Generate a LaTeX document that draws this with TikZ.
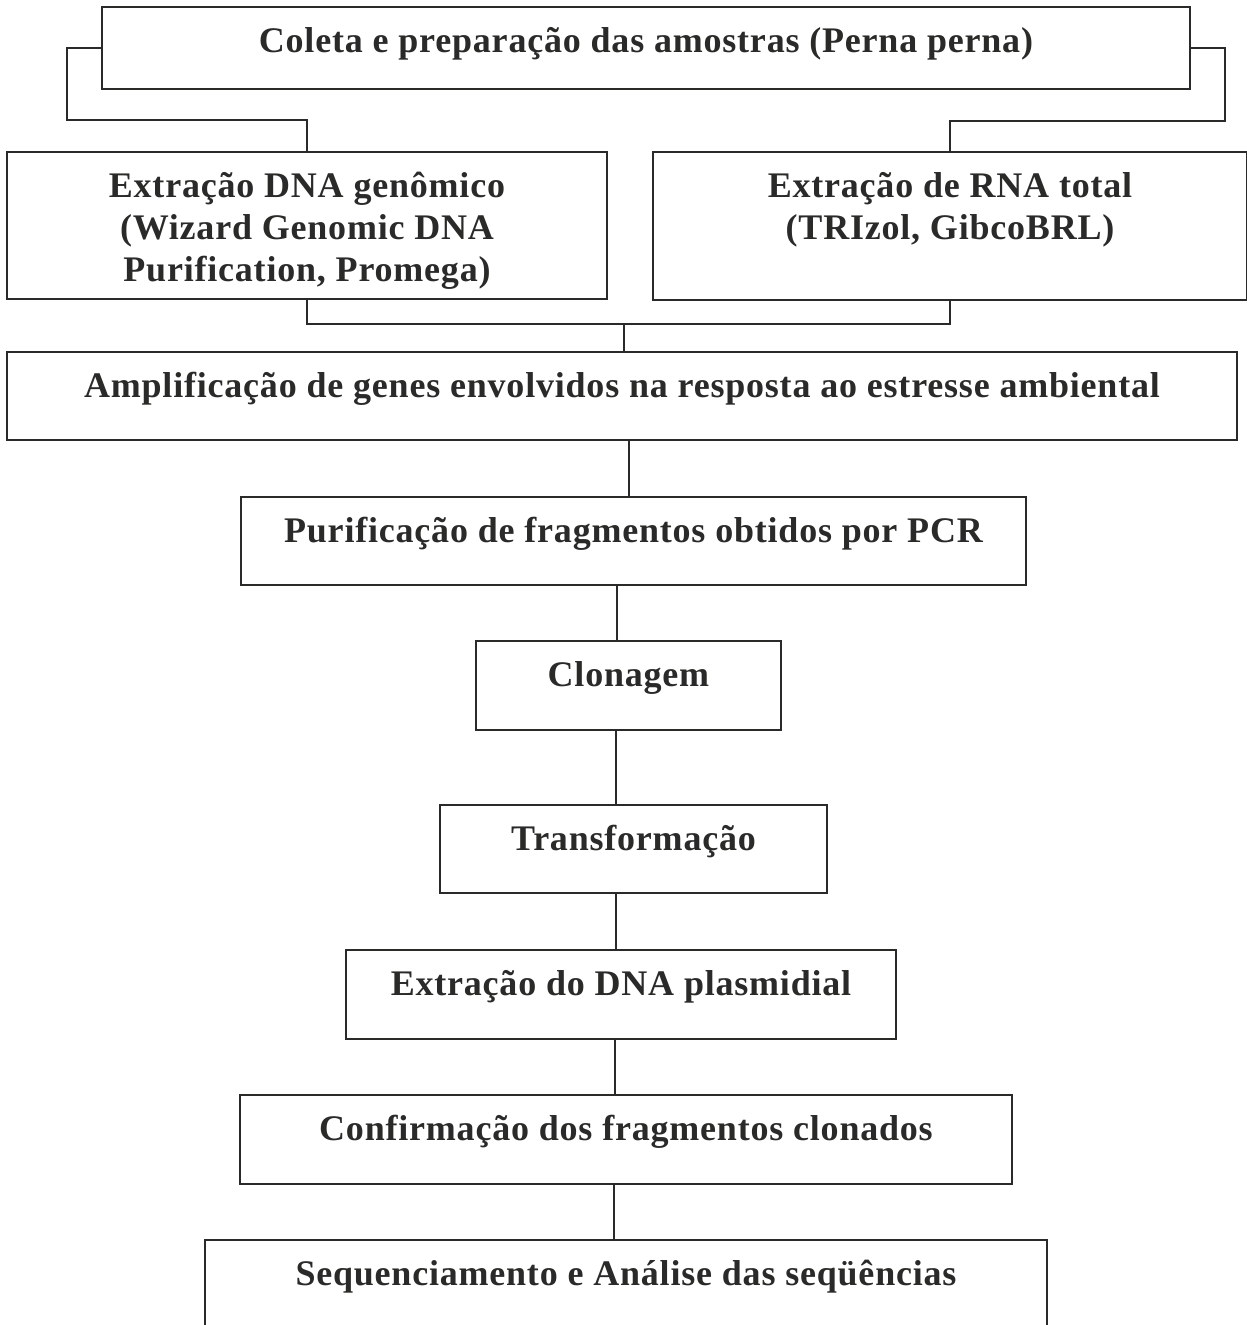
\documentclass[tikz,border=0pt]{standalone}
\usepackage{fontspec}
\setmainfont{Liberation Serif}[LetterSpace=2.2]
\definecolor{ink}{HTML}{2A2B28}
\begin{document}
\begin{tikzpicture}[x=1pt,y=-1pt,
  box/.style={draw=ink,line width=1.3pt,rectangle,inner sep=0pt},
  txt/.style={text=ink,font=\fontsize{36}{42}\selectfont\bfseries,inner sep=0pt,anchor=base,align=center},
  link/.style={draw=ink,line width=1.3pt}]
\useasboundingbox (0,0) rectangle (1247,1325);
\clip (0,0) rectangle (1247,1325);
% boxes
\node[box,minimum width=1088,minimum height=82] (coleta) at (646,48) {};
\node[box,minimum width=600,minimum height=147] (dna) at (307,225.5) {};
\node[box,minimum width=594,minimum height=148] (rna) at (950,226) {};
\node[box,minimum width=1230,minimum height=88] (amp) at (622,396) {};
\node[box,minimum width=785,minimum height=88] (pur) at (633.5,541) {};
\node[box,minimum width=305,minimum height=89] (clon) at (628.5,685.5) {};
\node[box,minimum width=387,minimum height=88] (trans) at (633.5,849) {};
\node[box,minimum width=550,minimum height=89] (plasm) at (621,994.5) {};
\node[box,minimum width=772,minimum height=89] (conf) at (626,1139.5) {};
\node[box,minimum width=842,minimum height=140] (seq) at (626,1310) {};
% texts
\node[txt] (coletaT) at (646,52) {Coleta e preparação das amostras (Perna perna)};
\node[txt] (dnaT) at (307,281) {Extração DNA genômico\\(Wizard Genomic DNA\\Purification, Promega)};
\node[txt] (rnaT) at (950,239) {Extração de RNA total\\(TRIzol, GibcoBRL)};
\node[txt] (ampT) at (622,397) {Amplificação de genes envolvidos na resposta ao estresse ambiental};
\node[txt] (purT) at (633.5,542) {Purificação de fragmentos obtidos por PCR};
\node[txt] (clonT) at (628.5,686) {Clonagem};
\node[txt] (transT) at (633.5,850) {Transformação};
\node[txt] (plasmT) at (621,995) {Extração do DNA plasmidial};
\node[txt] (confT) at (626,1140) {Confirmação dos fragmentos clonados};
\node[txt] (seqT) at (626,1285) {Sequenciamento e Análise das seqüências};
% connectors
\coordinate (lj) at (67,120);
\coordinate (rj) at (1225,121);
\coordinate (mj) at (624,324);
\draw[link] (coleta.west) -| (lj) -| (dna.north);
\draw[link] (coleta.east) -| (rj) -| (rna.north);
\draw[link] (dna.south) |- (mj) -| (rna.south);
\draw[link] (mj) -- (mj |- amp.north);
\coordinate (k1) at (629,440);
\coordinate (k2) at (617,585);
\coordinate (k3) at (616,730);
\coordinate (k4) at (616,893);
\coordinate (k5) at (615,1039);
\coordinate (k6) at (614,1184);
\draw[link] (k1 |- amp.south) -- (k1 |- pur.north);
\draw[link] (k2 |- pur.south) -- (k2 |- clon.north);
\draw[link] (k3 |- clon.south) -- (k3 |- trans.north);
\draw[link] (k4 |- trans.south) -- (k4 |- plasm.north);
\draw[link] (k5 |- plasm.south) -- (k5 |- conf.north);
\draw[link] (k6 |- conf.south) -- (k6 |- seq.north);
\end{tikzpicture}
\end{document}
